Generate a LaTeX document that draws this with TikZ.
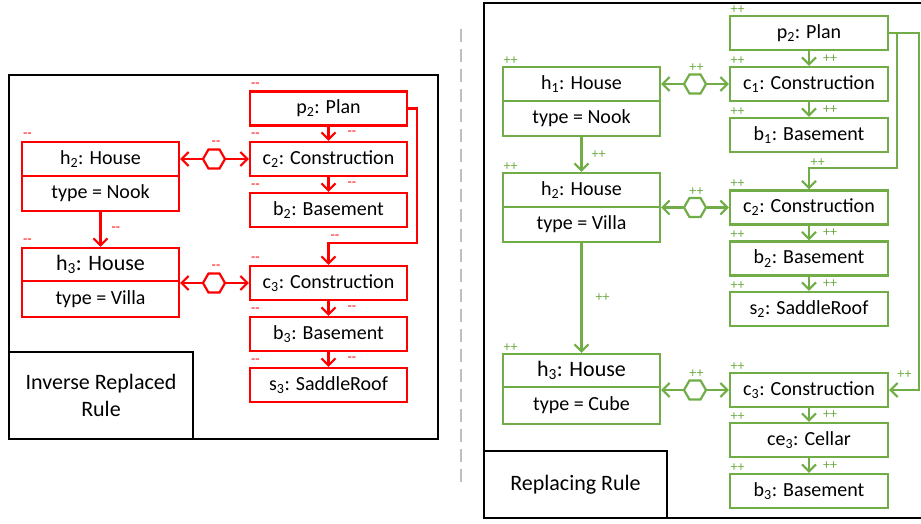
\documentclass[tikz,border=0pt]{standalone}
\usepackage{fontspec}
\setmainfont{Carlito}
\usetikzlibrary{shapes.geometric,arrows.meta}

\definecolor{delred}{RGB}{255,0,0}
\definecolor{addgreen}{RGB}{112,173,71}
\definecolor{sepgray}{RGB}{191,191,191}

\begin{document}
\begin{tikzpicture}[x=1pt, y=-1pt,
		del_style/.style={rectangle,draw=delred,line width=2.2pt,minimum width=157pt,minimum height=34pt,inner sep=0pt,font=\fontsize{20}{24}\selectfont},
		add_style/.style={del_style,draw=addgreen,minimum width=158pt},
		big_style/.style={font=\fontsize{22}{26}\selectfont},
		hex_style/.style={regular polygon,regular polygon sides=6,minimum size=22pt,inner sep=0pt,fill=white,line width=2.2pt},
		del_edge/.style={draw=delred,line width=2.2pt,-{Straight Barb[length=7pt,width=14pt]}},
		add_edge/.style={draw=addgreen,line width=2.2pt,-{Straight Barb[length=7pt,width=14pt]}},
		del_mark/.style={text=delred,font=\fontsize{14}{14}\selectfont,inner sep=0pt,anchor=south west,xshift=2pt,yshift=3pt},
		add_mark/.style={text=addgreen,font=\fontsize{14}{14}\selectfont,inner sep=0pt,anchor=south west,xshift=1.5pt,yshift=1.5pt},
		del_mark_e/.style={text=delred,font=\fontsize{14}{14}\selectfont,inner sep=0pt,anchor=west,xshift=18pt},
		add_mark_e/.style={text=addgreen,font=\fontsize{14}{14}\selectfont,inner sep=0pt,anchor=west,xshift=13pt},
		frame_style/.style={draw=black,line width=2.6pt},
		rule_style/.style={rectangle,draw=black,line width=2.6pt,inner sep=0pt,align=center,font=\fontsize{22}{27}\selectfont},
		sep_style/.style={draw=sepgray,line width=1.5pt,dash pattern=on 13pt off 7pt}]

	\useasboundingbox (0,0) rectangle (921,523);

	% inverse replaced rule
	\draw[frame_style] (9,75) rectangle (438,439);
	\node[rule_style,minimum width=184pt,minimum height=87pt] (lrule) at (101,395.5) {Inverse Replaced\\Rule};

	\node[del_style] (lp2) at (328.5,108.5) {p\textsubscript{2}: Plan};
	\node[del_style] (lc2) at (328.5,159) {c\textsubscript{2}: Construction};
	\node[del_style] (lb2) at (328.5,210) {b\textsubscript{2}: Basement};
	\node[del_style] (lc3) at (328.5,283) {c\textsubscript{3}: Construction};
	\node[del_style] (lb3) at (328.5,334) {b\textsubscript{3}: Basement};
	\node[del_style] (ls3) at (328.5,385) {s\textsubscript{3}: SaddleRoof};
	\node[del_style] (lh2) at (100.5,159) {h\textsubscript{2}: House};
	\node[del_style,minimum height=35pt] (lh2t) at (100.5,193.5) {type = Nook};
	\node[del_style,big_style,minimum height=33pt] (lh3) at (100.5,264.5) {h\textsubscript{3}: House};
	\node[del_style,minimum height=36pt] (lh3t) at (100.5,299) {type = Villa};
	\node[hex_style,draw=delred] (lhx2) at (214,159) {};
	\node[hex_style,draw=delred] (lhx3) at (214,283) {};

	\foreach \n in {lp2,lc2,lb2,lc3,lb3,ls3,lh2,lh3}
		\node[del_mark] at (\n.north west) {{-}{-}};
	\node[del_mark,anchor=south,xshift=0pt] at (lhx2.north) {{-}{-}};
	\node[del_mark,anchor=south,xshift=0pt] at (lhx3.north) {{-}{-}};

	\draw[del_edge] (lp2) -- (lc2) node[del_mark_e,midway] {{-}{-}};
	\draw[del_edge] (lc2) -- (lb2) node[del_mark_e,midway] {{-}{-}};
	\draw[del_edge] (lc3) -- (lb3) node[del_mark_e,midway] {{-}{-}};
	\draw[del_edge] (lb3) -- (ls3) node[del_mark_e,midway] {{-}{-}};
	\draw[del_edge] (lh2t) -- (lh3) node[del_mark_e,midway,xshift=-8pt] {{-}{-}};
	\draw[del_edge] (lhx2.west) -- (lhx2 -| lh2.east);
	\draw[del_edge] (lhx2.east) -- (lc2.west);
	\draw[del_edge] (lhx3.west) -- (lhx3 -| lh3.east);
	\draw[del_edge] (lhx3.east) -- (lc3.west);
	\coordinate (lbend) at (417,243);
	\draw[del_edge] (lp2.east) -| (lbend) -| (lc3.north);
	\node[del_mark] at (lbend -| lc3.north) {{-}{-}};

	% separator
	\draw[sep_style] (461,29) -- (461,483);

	% replacing rule
	\draw[frame_style] (921,3) -- (484,3) -- (484,518) -- (921,518);
	\node[rule_style,minimum width=183pt,minimum height=67pt] (rrule) at (575.5,484.5) {Replacing Rule};

	\node[add_style] (rp2) at (809,33) {p\textsubscript{2}: Plan};
	\node[add_style] (rc1) at (809,84) {c\textsubscript{1}: Construction};
	\node[add_style] (rb1) at (809,135) {b\textsubscript{1}: Basement};
	\node[add_style] (rc2) at (809,207.5) {c\textsubscript{2}: Construction};
	\node[add_style] (rb2) at (809,258.5) {b\textsubscript{2}: Basement};
	\node[add_style] (rs2) at (809,309) {s\textsubscript{2}: SaddleRoof};
	\node[add_style] (rc3) at (809,390) {c\textsubscript{3}: Construction};
	\node[add_style] (rce3) at (809,440) {ce\textsubscript{3}: Cellar};
	\node[add_style] (rb3) at (809,491) {b\textsubscript{3}: Basement};
	\node[add_style,minimum width=157pt] (rh1) at (581.5,84) {h\textsubscript{1}: House};
	\node[add_style,minimum width=157pt,minimum height=35pt] (rh1t) at (581.5,118.5) {type = Nook};
	\node[add_style,minimum width=157pt] (rh2) at (581.5,190) {h\textsubscript{2}: House};
	\node[add_style,minimum width=157pt,minimum height=35pt] (rh2t) at (581.5,224.5) {type = Villa};
	\node[add_style,big_style,minimum width=157pt,minimum height=33pt] (rh3) at (581.5,370.5) {h\textsubscript{3}: House};
	\node[add_style,minimum width=157pt,minimum height=37pt] (rh3t) at (581.5,405.5) {type = Cube};
	\node[hex_style,draw=addgreen] (rhx1) at (695,84) {};
	\node[hex_style,draw=addgreen] (rhx2) at (695,207.5) {};
	\node[hex_style,draw=addgreen] (rhx3) at (695,390) {};

	\foreach \n in {rp2,rc1,rb1,rc2,rb2,rs2,rc3,rce3,rb3,rh1,rh2,rh3}
		\node[add_mark] at (\n.north west) {++};
	\foreach \n in {rhx1,rhx2,rhx3}
		\node[add_mark,anchor=south,xshift=0pt] at (\n.north) {++};

	\draw[add_edge] (rp2) -- (rc1) node[add_mark_e,midway] {++};
	\draw[add_edge] (rc1) -- (rb1) node[add_mark_e,midway] {++};
	\draw[add_edge] (rc2) -- (rb2) node[add_mark_e,midway] {++};
	\draw[add_edge] (rb2) -- (rs2) node[add_mark_e,midway] {++};
	\draw[add_edge] (rc3) -- (rce3) node[add_mark_e,midway] {++};
	\draw[add_edge] (rce3) -- (rb3) node[add_mark_e,midway] {++};
	\draw[add_edge] (rh1t) -- (rh2) node[add_mark_e,midway,xshift=-4pt] {++};
	\draw[add_edge] (rh2t) -- (rh3) node[add_mark_e,midway] {++};
	\foreach \h/\x/\c in {rh1/rhx1/rc1,rh2/rhx2/rc2,rh3/rhx3/rc3} {
		\draw[add_edge] (\x.west) -- (\x -| \h.east);
		\draw[add_edge] (\x.east) -- (\c.west);
	}
	\coordinate (rbend1) at (897,168);
	\coordinate (rbend2) at (919,250);
	\draw[add_edge] (rp2.east) -| (rbend1) -| (rc2.north);
	\draw[add_edge] (rp2.east) -| (rbend2) |- (rc3.east);
	\node[add_mark] at (rbend1 -| rc2.north) {++};
	\node[add_mark,anchor=south,xshift=0pt,yshift=10pt] at (903,390) {++};
\end{tikzpicture}
\end{document}
